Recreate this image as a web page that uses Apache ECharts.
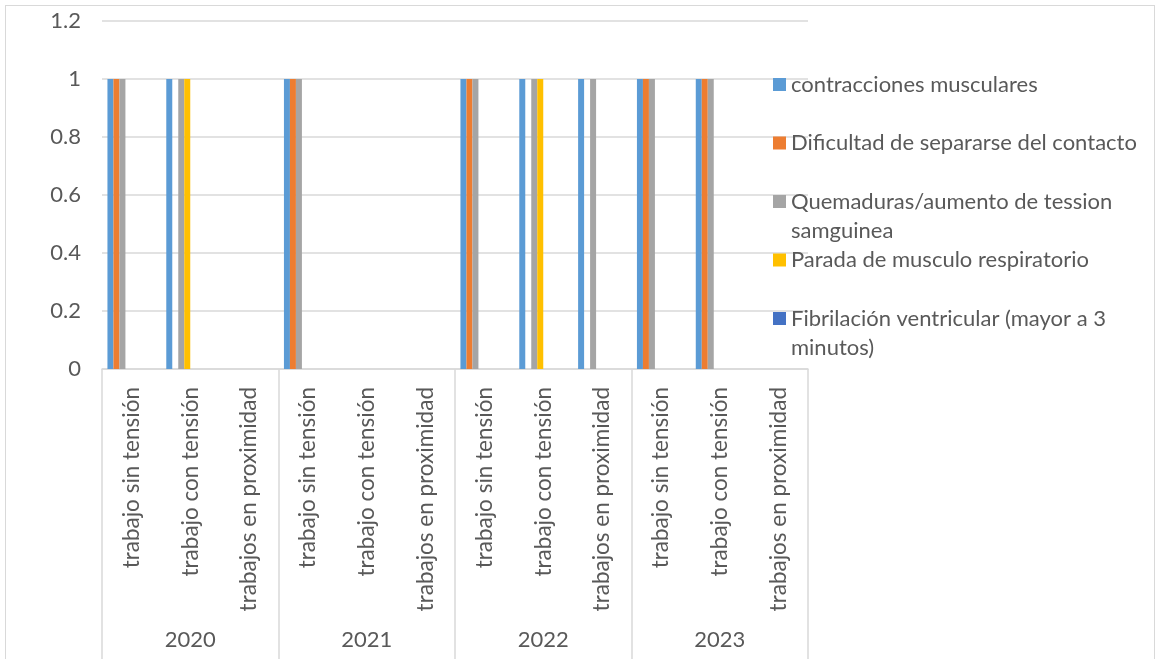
<!DOCTYPE html>
<html>
<head>
<meta charset="utf-8">
<script src="https://cdn.jsdelivr.net/npm/echarts@6/dist/echarts.min.js"></script>
<style>
  html, body { margin: 0; padding: 0; background: #ffffff; }
  #frame { position: absolute; left: 5px; top: 5px; width: 1150px; height: 700px; border: 1.5px solid #d9d9d9; box-sizing: border-box; }
  #main { position: absolute; left: 0; top: 0; width: 1159px; height: 659px; }
</style>
</head>
<body>
<div id="frame"></div>
<div id="main"></div>
<script>
// ---- data ----
const years = ['2020', '2021', '2022', '2023'];
const workTypes = ['trabajo sin tensión', 'trabajo con tensión', 'trabajos en proximidad'];
const categories = [
  'trabajo sin tensión', 'trabajo con tensión', 'trabajos en proximidad',
  'trabajo sin tensión', 'trabajo con tensión', 'trabajos en proximidad',
  'trabajo sin tensión', 'trabajo con tensión', 'trabajos en proximidad',
  'trabajo sin tensión', 'trabajo con tensión', 'trabajos en proximidad'
];
const seriesNames = [
  'contracciones musculares',
  'Dificultad de separarse del contacto',
  'Quemaduras/aumento de tession samguinea',
  'Parada de musculo respiratorio',
  'Fibrilación ventricular (mayor a 3 minutos)'
];
const contracciones = [1, 1, 0, 1, 0, 0, 1, 1, 1, 1, 1, 0];
const dificultad    = [1, 0, 0, 1, 0, 0, 1, 0, 0, 1, 1, 0];
const quemaduras    = [1, 1, 0, 1, 0, 0, 1, 1, 1, 1, 1, 0];
const parada        = [0, 1, 0, 0, 0, 0, 0, 1, 0, 0, 0, 0];
const fibrilacion   = [0, 0, 0, 0, 0, 0, 0, 0, 0, 0, 0, 0];
// three further (empty) series that occupy bar slots in the original chart
const emptySeries = [[], [], []];
const yTicks = { min: 0, max: 1.2, interval: 0.2 };

// ---- styling ----
const colors = ['#5B9BD5', '#ED7D31', '#A5A5A5', '#FFC000', '#4472C4', '#70AD47', '#264478', '#9E480E'];
const FONT = 'Lato';
const TXT = '#595959';
const LINE = '#d9d9d9';

const legendLines = {
  'Quemaduras/aumento de tession samguinea': ['Quemaduras/aumento de tession', 'samguinea'],
  'Fibrilación ventricular (mayor a 3 minutos)': ['Fibrilación ventricular (mayor a 3', 'minutos)']
};

const allData = [contracciones, dificultad, quemaduras, parada, fibrilacion];
const series = allData.map((d, i) => ({
  name: seriesNames[i],
  type: 'bar',
  data: d,
  xAxisIndex: 0,
  barGap: '0%',
  barCategoryGap: '18.5%',
  itemStyle: { color: colors[i] }
}));
emptySeries.forEach((d, k) => {
  series.push({
    name: 'extra' + (k + 1),
    type: 'bar',
    data: d,
    xAxisIndex: 0,
    barGap: '0%',
    barCategoryGap: '18.5%',
    itemStyle: { color: colors[5 + k] }
  });
});

const chart = echarts.init(document.getElementById('main'), null, { renderer: 'canvas' });
chart.setOption({
  backgroundColor: 'transparent',
  animation: false,
  textStyle: { fontFamily: FONT },
  grid: { left: 102, right: 351, top: 21, bottom: 290, containLabel: false },
  legend: {
    data: seriesNames,
    orient: 'vertical',
    left: 773,
    top: 41,
    padding: 0,
    itemWidth: 13,
    itemHeight: 13,
    itemGap: -28.5,
    icon: 'rect',
    selectedMode: false,
    textStyle: { fontFamily: FONT, fontSize: 22, color: TXT, lineHeight: 29 },
    formatter: function (name) {
      const l = legendLines[name] || [name];
      return '\n' + l[0] + '\n' + (l[1] || '');
    }
  },
  xAxis: [
    {
      type: 'category',
      data: categories,
      position: 'bottom',
      axisLine: { show: true, lineStyle: { color: LINE, width: 1.5 } },
      axisTick: { show: false },
      axisLabel: {
        interval: 0,
        rotate: 90,
        margin: 18,
        padding: [8, 0, 0, 0],
        fontFamily: FONT,
        fontSize: 22.5,
        color: TXT
      }
    },
    {
      type: 'category',
      data: years,
      position: 'bottom',
      offset: 0,
      axisLine: { show: false },
      axisTick: { show: true, length: 292, lineStyle: { color: LINE, width: 1.5 } },
      axisLabel: {
        interval: 0,
        margin: 260,
        fontFamily: FONT,
        fontSize: 22,
        color: TXT
      },
      splitLine: { show: false }
    }
  ],
  yAxis: {
    type: 'value',
    min: yTicks.min,
    max: yTicks.max,
    interval: yTicks.interval,
    axisLine: { show: false },
    axisTick: { show: false },
    axisLabel: { margin: 21, fontFamily: FONT, fontSize: 22, color: TXT },
    splitLine: { lineStyle: { color: LINE, width: 1.5 } }
  },
  series: series
});
</script>
</body>
</html>
